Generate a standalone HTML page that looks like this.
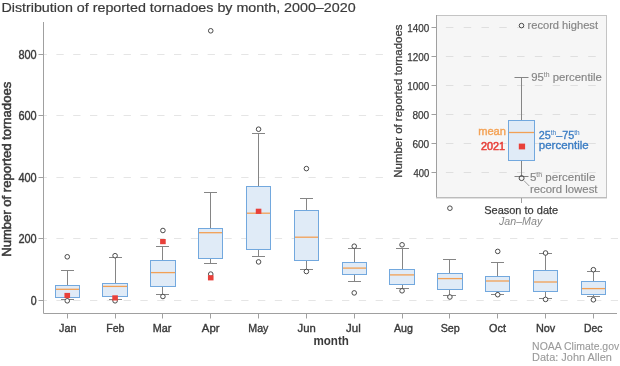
<!DOCTYPE html><html><head><meta charset="utf-8"><style>html,body{margin:0;padding:0;background:#fff;overflow:hidden}svg{display:block;will-change:transform}text{font-family:"Liberation Sans", sans-serif}</style></head><body>
<svg width="620" height="366" viewBox="0 0 620 366">
<text id="title" x="1.40" y="12.1" font-size="13" fill="#3a3a3a" stroke="#3a3a3a" stroke-width="0.2" textLength="354.20" lengthAdjust="spacingAndGlyphs">Distribution of reported tornadoes by month, 2000–2020</text>
<line x1="44" y1="300.5" x2="618" y2="300.5" stroke="#e5e5e5" stroke-width="1" stroke-dasharray="7.3 9.5" stroke-dashoffset="4.400000000000002"/>
<line x1="44" y1="238.5" x2="618" y2="238.5" stroke="#e5e5e5" stroke-width="1" stroke-dasharray="7.3 9.5" stroke-dashoffset="4.400000000000002"/>
<line x1="44" y1="177.5" x2="618" y2="177.5" stroke="#e5e5e5" stroke-width="1" stroke-dasharray="7.3 9.5" stroke-dashoffset="4.400000000000002"/>
<line x1="44" y1="115.5" x2="618" y2="115.5" stroke="#e5e5e5" stroke-width="1" stroke-dasharray="7.3 9.5" stroke-dashoffset="4.400000000000002"/>
<line x1="44" y1="54.5" x2="618" y2="54.5" stroke="#e5e5e5" stroke-width="1" stroke-dasharray="7.3 9.5" stroke-dashoffset="4.400000000000002"/>
<line x1="38.5" y1="300.5" x2="43.5" y2="300.5" stroke="#a0a0a0" stroke-width="1"/>
<text id="yt0" x="30.81" y="305.0" font-size="12.3" fill="#3a3a3a" stroke="#3a3a3a" stroke-width="0.4" textLength="5.89" lengthAdjust="spacingAndGlyphs">0</text>
<line x1="38.5" y1="238.5" x2="43.5" y2="238.5" stroke="#a0a0a0" stroke-width="1"/>
<text id="yt200" x="18.43" y="243.0" font-size="12.3" fill="#3a3a3a" stroke="#3a3a3a" stroke-width="0.4" textLength="18.27" lengthAdjust="spacingAndGlyphs">200</text>
<line x1="38.5" y1="177.5" x2="43.5" y2="177.5" stroke="#a0a0a0" stroke-width="1"/>
<text id="yt400" x="18.43" y="182.0" font-size="12.3" fill="#3a3a3a" stroke="#3a3a3a" stroke-width="0.4" textLength="18.27" lengthAdjust="spacingAndGlyphs">400</text>
<line x1="38.5" y1="115.5" x2="43.5" y2="115.5" stroke="#a0a0a0" stroke-width="1"/>
<text id="yt600" x="18.43" y="120.0" font-size="12.3" fill="#3a3a3a" stroke="#3a3a3a" stroke-width="0.4" textLength="18.27" lengthAdjust="spacingAndGlyphs">600</text>
<line x1="38.5" y1="54.5" x2="43.5" y2="54.5" stroke="#a0a0a0" stroke-width="1"/>
<text id="yt800" x="18.43" y="59.0" font-size="12.3" fill="#3a3a3a" stroke="#3a3a3a" stroke-width="0.4" textLength="18.27" lengthAdjust="spacingAndGlyphs">800</text>
<path d="M43.5 22 V313.5 H617" fill="none" stroke="#a0a0a0" stroke-width="1"/>
<text transform="translate(11,256.8) rotate(-90)" font-size="12.1" fill="#3a3a3a" stroke="#3a3a3a" stroke-width="0.5" textLength="175" lengthAdjust="spacingAndGlyphs">Number of reported tornadoes</text>
<line x1="67.5" y1="313.5" x2="67.5" y2="318.5" stroke="#a0a0a0" stroke-width="1"/>
<text id="m0" x="59.10" y="332.1" font-size="11.8" fill="#3a3a3a" stroke="#3a3a3a" stroke-width="0.4" textLength="17.40" lengthAdjust="spacingAndGlyphs">Jan</text>
<line x1="115.5" y1="313.5" x2="115.5" y2="318.5" stroke="#a0a0a0" stroke-width="1"/>
<text id="m1" x="106.20" y="332.1" font-size="11.8" fill="#3a3a3a" stroke="#3a3a3a" stroke-width="0.4" textLength="18.20" lengthAdjust="spacingAndGlyphs">Feb</text>
<line x1="162.5" y1="313.5" x2="162.5" y2="318.5" stroke="#a0a0a0" stroke-width="1"/>
<text id="m2" x="152.70" y="332.1" font-size="11.8" fill="#3a3a3a" stroke="#3a3a3a" stroke-width="0.4" textLength="18.60" lengthAdjust="spacingAndGlyphs">Mar</text>
<line x1="210.5" y1="313.5" x2="210.5" y2="318.5" stroke="#a0a0a0" stroke-width="1"/>
<text id="m3" x="201.80" y="332.1" font-size="11.8" fill="#3a3a3a" stroke="#3a3a3a" stroke-width="0.4" textLength="17.70" lengthAdjust="spacingAndGlyphs">Apr</text>
<line x1="258.5" y1="313.5" x2="258.5" y2="318.5" stroke="#a0a0a0" stroke-width="1"/>
<text id="m4" x="248.30" y="332.1" font-size="11.8" fill="#3a3a3a" stroke="#3a3a3a" stroke-width="0.4" textLength="20.10" lengthAdjust="spacingAndGlyphs">May</text>
<line x1="306.5" y1="313.5" x2="306.5" y2="318.5" stroke="#a0a0a0" stroke-width="1"/>
<text id="m5" x="297.60" y="332.1" font-size="11.8" fill="#3a3a3a" stroke="#3a3a3a" stroke-width="0.4" textLength="18.20" lengthAdjust="spacingAndGlyphs">Jun</text>
<line x1="354.5" y1="313.5" x2="354.5" y2="318.5" stroke="#a0a0a0" stroke-width="1"/>
<text id="m6" x="346.00" y="332.1" font-size="11.8" fill="#3a3a3a" stroke="#3a3a3a" stroke-width="0.4" textLength="14.70" lengthAdjust="spacingAndGlyphs">Jul</text>
<line x1="402.5" y1="313.5" x2="402.5" y2="318.5" stroke="#a0a0a0" stroke-width="1"/>
<text id="m7" x="394.00" y="332.1" font-size="11.8" fill="#3a3a3a" stroke="#3a3a3a" stroke-width="0.4" textLength="18.90" lengthAdjust="spacingAndGlyphs">Aug</text>
<line x1="449.5" y1="313.5" x2="449.5" y2="318.5" stroke="#a0a0a0" stroke-width="1"/>
<text id="m8" x="440.70" y="332.1" font-size="11.8" fill="#3a3a3a" stroke="#3a3a3a" stroke-width="0.4" textLength="19.10" lengthAdjust="spacingAndGlyphs">Sep</text>
<line x1="497.5" y1="313.5" x2="497.5" y2="318.5" stroke="#a0a0a0" stroke-width="1"/>
<text id="m9" x="489.10" y="332.1" font-size="11.8" fill="#3a3a3a" stroke="#3a3a3a" stroke-width="0.4" textLength="16.90" lengthAdjust="spacingAndGlyphs">Oct</text>
<line x1="545.5" y1="313.5" x2="545.5" y2="318.5" stroke="#a0a0a0" stroke-width="1"/>
<text id="m10" x="535.90" y="332.1" font-size="11.8" fill="#3a3a3a" stroke="#3a3a3a" stroke-width="0.4" textLength="19.30" lengthAdjust="spacingAndGlyphs">Nov</text>
<line x1="593.5" y1="313.5" x2="593.5" y2="318.5" stroke="#a0a0a0" stroke-width="1"/>
<text id="m11" x="584.00" y="332.1" font-size="11.8" fill="#3a3a3a" stroke="#3a3a3a" stroke-width="0.4" textLength="18.40" lengthAdjust="spacingAndGlyphs">Dec</text>
<text id="month" x="313.40" y="345" font-size="12.4" fill="#3a3a3a" font-weight="bold" textLength="35.50" lengthAdjust="spacingAndGlyphs">month</text>
<line x1="67.5" y1="270.5" x2="67.5" y2="285.6" stroke="#858585" stroke-width="1"/>
<line x1="67.5" y1="297.5" x2="67.5" y2="299.5" stroke="#858585" stroke-width="1"/>
<line x1="61.0" y1="270.5" x2="74.0" y2="270.5" stroke="#858585" stroke-width="1"/>
<line x1="61.0" y1="299.5" x2="74.0" y2="299.5" stroke="#858585" stroke-width="1"/>
<rect x="55.5" y="285.5" width="24.0" height="12.0" fill="#e0ebf7" stroke="#72a8de" stroke-width="1"/>
<line x1="56.0" y1="289.3" x2="79.0" y2="289.3" stroke="#f2a055" stroke-width="1.3"/>
<circle cx="67.25" cy="256.8" r="2.3" fill="#fff" stroke="#4a4a4a" stroke-width="1"/>
<circle cx="67.25" cy="300.8" r="2.3" fill="#fff" stroke="#4a4a4a" stroke-width="1"/>
<rect x="64.45" y="292.9" width="5.6" height="5.2" fill="#e8403a"/>
<line x1="115.5" y1="257.3" x2="115.5" y2="283.1" stroke="#858585" stroke-width="1"/>
<line x1="115.5" y1="296.7" x2="115.5" y2="299.7" stroke="#858585" stroke-width="1"/>
<line x1="109.0" y1="257.5" x2="122.0" y2="257.5" stroke="#858585" stroke-width="1"/>
<line x1="109.0" y1="299.5" x2="122.0" y2="299.5" stroke="#858585" stroke-width="1"/>
<rect x="102.5" y="283.5" width="25.0" height="13.0" fill="#e0ebf7" stroke="#72a8de" stroke-width="1"/>
<line x1="103.0" y1="286.4" x2="127.0" y2="286.4" stroke="#f2a055" stroke-width="1.3"/>
<circle cx="115.08" cy="255.7" r="2.3" fill="#fff" stroke="#4a4a4a" stroke-width="1"/>
<circle cx="115.08" cy="300.8" r="2.3" fill="#fff" stroke="#4a4a4a" stroke-width="1"/>
<rect x="112.28" y="295.29999999999995" width="5.6" height="5.2" fill="#e8403a"/>
<line x1="162.5" y1="246.2" x2="162.5" y2="260.4" stroke="#858585" stroke-width="1"/>
<line x1="162.5" y1="287.0" x2="162.5" y2="294.3" stroke="#858585" stroke-width="1"/>
<line x1="156.0" y1="246.5" x2="169.0" y2="246.5" stroke="#858585" stroke-width="1"/>
<line x1="156.0" y1="294.5" x2="169.0" y2="294.5" stroke="#858585" stroke-width="1"/>
<rect x="150.5" y="260.5" width="25.0" height="26.0" fill="#e0ebf7" stroke="#72a8de" stroke-width="1"/>
<line x1="151.0" y1="272.6" x2="175.0" y2="272.6" stroke="#f2a055" stroke-width="1.3"/>
<circle cx="162.91" cy="230.5" r="2.3" fill="#fff" stroke="#4a4a4a" stroke-width="1"/>
<circle cx="162.91" cy="296.5" r="2.3" fill="#fff" stroke="#4a4a4a" stroke-width="1"/>
<rect x="160.10999999999999" y="239.0" width="5.6" height="5.2" fill="#e8403a"/>
<line x1="210.5" y1="192.5" x2="210.5" y2="228.2" stroke="#858585" stroke-width="1"/>
<line x1="210.5" y1="258.8" x2="210.5" y2="263.3" stroke="#858585" stroke-width="1"/>
<line x1="204.0" y1="192.5" x2="217.0" y2="192.5" stroke="#858585" stroke-width="1"/>
<line x1="204.0" y1="263.5" x2="217.0" y2="263.5" stroke="#858585" stroke-width="1"/>
<rect x="198.5" y="228.5" width="24.0" height="30.0" fill="#e0ebf7" stroke="#72a8de" stroke-width="1"/>
<line x1="199.0" y1="232.7" x2="222.0" y2="232.7" stroke="#f2a055" stroke-width="1.3"/>
<circle cx="210.74" cy="30.8" r="2.3" fill="#fff" stroke="#4a4a4a" stroke-width="1"/>
<circle cx="210.74" cy="274.1" r="2.3" fill="#fff" stroke="#4a4a4a" stroke-width="1"/>
<rect x="207.94" y="275.2" width="5.6" height="5.2" fill="#e8403a"/>
<line x1="258.5" y1="133.3" x2="258.5" y2="186.2" stroke="#858585" stroke-width="1"/>
<line x1="258.5" y1="249.2" x2="258.5" y2="256.8" stroke="#858585" stroke-width="1"/>
<line x1="252.0" y1="133.5" x2="265.0" y2="133.5" stroke="#858585" stroke-width="1"/>
<line x1="252.0" y1="256.5" x2="265.0" y2="256.5" stroke="#858585" stroke-width="1"/>
<rect x="246.5" y="186.5" width="24.0" height="63.0" fill="#e0ebf7" stroke="#72a8de" stroke-width="1"/>
<line x1="247.0" y1="213.2" x2="270.0" y2="213.2" stroke="#f2a055" stroke-width="1.3"/>
<circle cx="258.57" cy="129.2" r="2.3" fill="#fff" stroke="#4a4a4a" stroke-width="1"/>
<circle cx="258.57" cy="261.9" r="2.3" fill="#fff" stroke="#4a4a4a" stroke-width="1"/>
<rect x="255.76999999999998" y="208.70000000000002" width="5.6" height="5.2" fill="#e8403a"/>
<line x1="306.5" y1="198.0" x2="306.5" y2="210.1" stroke="#858585" stroke-width="1"/>
<line x1="306.5" y1="260.3" x2="306.5" y2="269.7" stroke="#858585" stroke-width="1"/>
<line x1="300.0" y1="198.5" x2="313.0" y2="198.5" stroke="#858585" stroke-width="1"/>
<line x1="300.0" y1="269.5" x2="313.0" y2="269.5" stroke="#858585" stroke-width="1"/>
<rect x="294.5" y="210.5" width="24.0" height="50.0" fill="#e0ebf7" stroke="#72a8de" stroke-width="1"/>
<line x1="295.0" y1="237.2" x2="318.0" y2="237.2" stroke="#f2a055" stroke-width="1.3"/>
<circle cx="306.4" cy="168.6" r="2.3" fill="#fff" stroke="#4a4a4a" stroke-width="1"/>
<circle cx="306.4" cy="271.5" r="2.3" fill="#fff" stroke="#4a4a4a" stroke-width="1"/>
<line x1="354.5" y1="248.9" x2="354.5" y2="262.2" stroke="#858585" stroke-width="1"/>
<line x1="354.5" y1="274.5" x2="354.5" y2="281.6" stroke="#858585" stroke-width="1"/>
<line x1="348.0" y1="248.5" x2="361.0" y2="248.5" stroke="#858585" stroke-width="1"/>
<line x1="348.0" y1="281.5" x2="361.0" y2="281.5" stroke="#858585" stroke-width="1"/>
<rect x="342.5" y="262.5" width="24.0" height="12.0" fill="#e0ebf7" stroke="#72a8de" stroke-width="1"/>
<line x1="343.0" y1="268.1" x2="366.0" y2="268.1" stroke="#f2a055" stroke-width="1.3"/>
<circle cx="354.23" cy="246.2" r="2.3" fill="#fff" stroke="#4a4a4a" stroke-width="1"/>
<circle cx="354.23" cy="292.9" r="2.3" fill="#fff" stroke="#4a4a4a" stroke-width="1"/>
<line x1="402.5" y1="248.5" x2="402.5" y2="269.4" stroke="#858585" stroke-width="1"/>
<line x1="402.5" y1="284.1" x2="402.5" y2="288.6" stroke="#858585" stroke-width="1"/>
<line x1="396.0" y1="248.5" x2="409.0" y2="248.5" stroke="#858585" stroke-width="1"/>
<line x1="396.0" y1="288.5" x2="409.0" y2="288.5" stroke="#858585" stroke-width="1"/>
<rect x="389.5" y="269.5" width="25.0" height="15.0" fill="#e0ebf7" stroke="#72a8de" stroke-width="1"/>
<line x1="390.0" y1="274.9" x2="414.0" y2="274.9" stroke="#f2a055" stroke-width="1.3"/>
<circle cx="402.06" cy="244.8" r="2.3" fill="#fff" stroke="#4a4a4a" stroke-width="1"/>
<circle cx="402.06" cy="290.8" r="2.3" fill="#fff" stroke="#4a4a4a" stroke-width="1"/>
<line x1="449.5" y1="259.5" x2="449.5" y2="273.2" stroke="#858585" stroke-width="1"/>
<line x1="449.5" y1="289.2" x2="449.5" y2="295.3" stroke="#858585" stroke-width="1"/>
<line x1="443.0" y1="259.5" x2="456.0" y2="259.5" stroke="#858585" stroke-width="1"/>
<line x1="443.0" y1="295.5" x2="456.0" y2="295.5" stroke="#858585" stroke-width="1"/>
<rect x="437.5" y="273.5" width="25.0" height="16.0" fill="#e0ebf7" stroke="#72a8de" stroke-width="1"/>
<line x1="438.0" y1="278.6" x2="462.0" y2="278.6" stroke="#f2a055" stroke-width="1.3"/>
<circle cx="449.89" cy="297.0" r="2.3" fill="#fff" stroke="#4a4a4a" stroke-width="1"/>
<line x1="497.5" y1="262.6" x2="497.5" y2="276.3" stroke="#858585" stroke-width="1"/>
<line x1="497.5" y1="291.9" x2="497.5" y2="294.3" stroke="#858585" stroke-width="1"/>
<line x1="491.0" y1="262.5" x2="504.0" y2="262.5" stroke="#858585" stroke-width="1"/>
<line x1="491.0" y1="294.5" x2="504.0" y2="294.5" stroke="#858585" stroke-width="1"/>
<rect x="485.5" y="276.5" width="24.0" height="15.0" fill="#e0ebf7" stroke="#72a8de" stroke-width="1"/>
<line x1="486.0" y1="281.0" x2="509.0" y2="281.0" stroke="#f2a055" stroke-width="1.3"/>
<circle cx="497.71999999999997" cy="251.4" r="2.3" fill="#fff" stroke="#4a4a4a" stroke-width="1"/>
<circle cx="497.71999999999997" cy="294.7" r="2.3" fill="#fff" stroke="#4a4a4a" stroke-width="1"/>
<line x1="545.5" y1="253.8" x2="545.5" y2="271.0" stroke="#858585" stroke-width="1"/>
<line x1="545.5" y1="291.9" x2="545.5" y2="298.0" stroke="#858585" stroke-width="1"/>
<line x1="539.0" y1="253.5" x2="552.0" y2="253.5" stroke="#858585" stroke-width="1"/>
<line x1="539.0" y1="298.5" x2="552.0" y2="298.5" stroke="#858585" stroke-width="1"/>
<rect x="533.5" y="270.5" width="24.0" height="21.0" fill="#e0ebf7" stroke="#72a8de" stroke-width="1"/>
<line x1="534.0" y1="282.0" x2="557.0" y2="282.0" stroke="#f2a055" stroke-width="1.3"/>
<circle cx="545.55" cy="253.0" r="2.3" fill="#fff" stroke="#4a4a4a" stroke-width="1"/>
<circle cx="545.55" cy="299.4" r="2.3" fill="#fff" stroke="#4a4a4a" stroke-width="1"/>
<line x1="593.5" y1="271.3" x2="593.5" y2="281.2" stroke="#858585" stroke-width="1"/>
<line x1="593.5" y1="294.7" x2="593.5" y2="296.5" stroke="#858585" stroke-width="1"/>
<line x1="587.0" y1="271.5" x2="600.0" y2="271.5" stroke="#858585" stroke-width="1"/>
<line x1="587.0" y1="296.5" x2="600.0" y2="296.5" stroke="#858585" stroke-width="1"/>
<rect x="581.5" y="281.5" width="24.0" height="13.0" fill="#e0ebf7" stroke="#72a8de" stroke-width="1"/>
<line x1="582.0" y1="288.6" x2="605.0" y2="288.6" stroke="#f2a055" stroke-width="1.3"/>
<circle cx="593.38" cy="269.7" r="2.3" fill="#fff" stroke="#4a4a4a" stroke-width="1"/>
<circle cx="593.38" cy="299.8" r="2.3" fill="#fff" stroke="#4a4a4a" stroke-width="1"/>
<text id="noaa" x="532.10" y="349.7" font-size="10.3" fill="#9a9a9a" stroke="#9a9a9a" stroke-width="0.1" textLength="87.10" lengthAdjust="spacingAndGlyphs">NOAA Climate.gov</text>
<text id="data" x="532.10" y="361.1" font-size="10.3" fill="#9a9a9a" stroke="#9a9a9a" stroke-width="0.1" textLength="79.80" lengthAdjust="spacingAndGlyphs">Data: John Allen</text>
<rect x="384" y="0" width="236" height="232" fill="#fff"/>
<rect x="436.5" y="15.5" width="170" height="182.5" fill="#f6f6f6" stroke="#c4c4c4" stroke-width="1"/>
<line x1="437" y1="172.5" x2="606" y2="172.5" stroke="#dfdfdf" stroke-width="1" stroke-dasharray="7.5 10.29" stroke-dashoffset="8.9"/>
<line x1="431.5" y1="172.5" x2="436.5" y2="172.5" stroke="#a0a0a0" stroke-width="1"/>
<text id="it400" x="413.40" y="177.1" font-size="10.3" fill="#3a3a3a" stroke="#3a3a3a" stroke-width="0.25" textLength="15.80" lengthAdjust="spacingAndGlyphs">400</text>
<line x1="437" y1="143.5" x2="606" y2="143.5" stroke="#dfdfdf" stroke-width="1" stroke-dasharray="7.5 10.29" stroke-dashoffset="8.9"/>
<line x1="431.5" y1="143.5" x2="436.5" y2="143.5" stroke="#a0a0a0" stroke-width="1"/>
<text id="it600" x="412.40" y="148.1" font-size="10.3" fill="#3a3a3a" stroke="#3a3a3a" stroke-width="0.25" textLength="16.80" lengthAdjust="spacingAndGlyphs">600</text>
<line x1="437" y1="114.5" x2="606" y2="114.5" stroke="#dfdfdf" stroke-width="1" stroke-dasharray="7.5 10.29" stroke-dashoffset="8.9"/>
<line x1="431.5" y1="114.5" x2="436.5" y2="114.5" stroke="#a0a0a0" stroke-width="1"/>
<text id="it800" x="412.40" y="119.1" font-size="10.3" fill="#3a3a3a" stroke="#3a3a3a" stroke-width="0.25" textLength="16.80" lengthAdjust="spacingAndGlyphs">800</text>
<line x1="437" y1="85.5" x2="606" y2="85.5" stroke="#dfdfdf" stroke-width="1" stroke-dasharray="7.5 10.29" stroke-dashoffset="8.9"/>
<line x1="431.5" y1="85.5" x2="436.5" y2="85.5" stroke="#a0a0a0" stroke-width="1"/>
<text id="it1000" x="407.20" y="90.1" font-size="10.3" fill="#3a3a3a" stroke="#3a3a3a" stroke-width="0.25" textLength="22.00" lengthAdjust="spacingAndGlyphs">1000</text>
<line x1="437" y1="56.5" x2="606" y2="56.5" stroke="#dfdfdf" stroke-width="1" stroke-dasharray="7.5 10.29" stroke-dashoffset="8.9"/>
<line x1="431.5" y1="56.5" x2="436.5" y2="56.5" stroke="#a0a0a0" stroke-width="1"/>
<text id="it1200" x="407.20" y="61.1" font-size="10.3" fill="#3a3a3a" stroke="#3a3a3a" stroke-width="0.25" textLength="22.00" lengthAdjust="spacingAndGlyphs">1200</text>
<line x1="437" y1="27.5" x2="606" y2="27.5" stroke="#dfdfdf" stroke-width="1" stroke-dasharray="7.5 10.29" stroke-dashoffset="8.9"/>
<line x1="431.5" y1="27.5" x2="436.5" y2="27.5" stroke="#a0a0a0" stroke-width="1"/>
<text id="it1400" x="407.20" y="32.1" font-size="10.3" fill="#3a3a3a" stroke="#3a3a3a" stroke-width="0.25" textLength="22.00" lengthAdjust="spacingAndGlyphs">1400</text>
<line x1="436.5" y1="15" x2="436.5" y2="198" stroke="#a0a0a0" stroke-width="1"/>
<line x1="436" y1="197.5" x2="607" y2="197.5" stroke="#bcbcbc" stroke-width="1"/>
<line x1="521.5" y1="198" x2="521.5" y2="203" stroke="#a0a0a0" stroke-width="1"/>
<text transform="translate(401.8,177.7) rotate(-90)" font-size="10.4" fill="#3a3a3a" stroke="#3a3a3a" stroke-width="0.25" textLength="153.2" lengthAdjust="spacingAndGlyphs">Number of reported tornadoes</text>
<line x1="521.5" y1="77.5" x2="521.5" y2="120.1" stroke="#858585" stroke-width="1"/>
<line x1="521.5" y1="160.5" x2="521.5" y2="176.5" stroke="#858585" stroke-width="1"/>
<line x1="514.5" y1="77.5" x2="528.5" y2="77.5" stroke="#858585" stroke-width="1"/>
<line x1="514.5" y1="176.5" x2="528.5" y2="176.5" stroke="#858585" stroke-width="1"/>
<rect x="508.5" y="120.5" width="26" height="40" fill="#e0ebf7" stroke="#72a8de" stroke-width="1"/>
<line x1="509" y1="132.5" x2="534" y2="132.5" stroke="#f2a055" stroke-width="1.3"/>
<rect x="518.8" y="143.6" width="6.3" height="5.8" fill="#e8403a"/>
<circle cx="521.6" cy="178.1" r="2.5" fill="none" stroke="#4a4a4a" stroke-width="1"/>
<line x1="524" y1="180.7" x2="529.3" y2="186" stroke="#888" stroke-width="0.8"/>
<circle cx="521.5" cy="25.6" r="2.3" fill="none" stroke="#4a4a4a" stroke-width="1"/>
<circle cx="449.9" cy="208.2" r="2.3" fill="none" stroke="#4a4a4a" stroke-width="1"/>
<text id="rhigh" x="527.50" y="28.6" font-size="10.8" fill="#858585" stroke="#858585" stroke-width="0.15" textLength="70.50" lengthAdjust="spacingAndGlyphs">record highest</text>
<text id="p95" x="531.20" y="81.3" font-size="11.3" fill="#858585" stroke="#858585" stroke-width="0.15" textLength="70.70" lengthAdjust="spacingAndGlyphs">95<tspan font-size="6.8" dy="-4" stroke-width="0.05">th</tspan><tspan dy="4"> percentile</tspan></text>
<text id="p5" x="529.90" y="180.7" font-size="11.3" fill="#858585" stroke="#858585" stroke-width="0.15" textLength="65.40" lengthAdjust="spacingAndGlyphs">5<tspan font-size="6.8" dy="-4" stroke-width="0.05">th</tspan><tspan dy="4"> percentile</tspan></text>
<text id="rlow" x="529.90" y="192.6" font-size="11" fill="#858585" stroke="#858585" stroke-width="0.15" textLength="67.60" lengthAdjust="spacingAndGlyphs">record lowest</text>
<text id="mean" x="478.20" y="135.4" font-size="11.5" fill="#f4a255" stroke="#f4a255" stroke-width="0.4" textLength="27.80" lengthAdjust="spacingAndGlyphs">mean</text>
<text id="y2021" x="480.90" y="150.1" font-size="11.3" fill="#e8403a" stroke="#e8403a" stroke-width="0.55" textLength="24.10" lengthAdjust="spacingAndGlyphs">2021</text>
<text id="p2575" x="538.80" y="139.3" font-size="11.3" fill="#3b7dc4" stroke="#3b7dc4" stroke-width="0.35" textLength="40.80" lengthAdjust="spacingAndGlyphs">25<tspan font-size="6.8" dy="-4" stroke-width="0.05">th</tspan><tspan dy="4">–75</tspan><tspan font-size="6.8" dy="-4" stroke-width="0.05">th</tspan></text>
<text id="pct" x="538.80" y="149.2" font-size="11.5" fill="#3b7dc4" stroke="#3b7dc4" stroke-width="0.35" textLength="49.90" lengthAdjust="spacingAndGlyphs">percentile</text>
<text id="season" x="484.20" y="213.7" font-size="11.8" fill="#3a3a3a" stroke="#3a3a3a" stroke-width="0.25" textLength="74.00" lengthAdjust="spacingAndGlyphs">Season to date</text>
<text id="janmay" x="498.90" y="225" font-size="10.8" fill="#888" font-style="italic" textLength="43.40" lengthAdjust="spacingAndGlyphs">Jan–May</text>
</svg></body></html>
